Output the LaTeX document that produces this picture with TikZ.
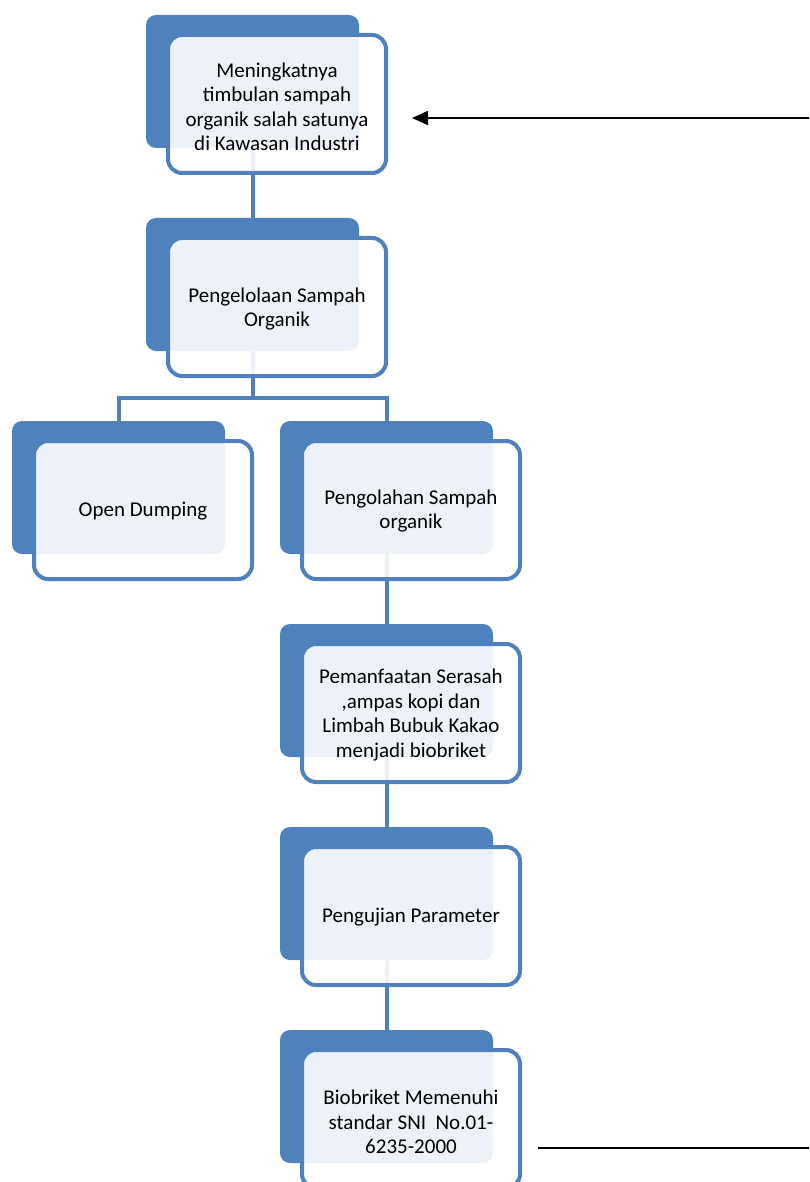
\documentclass[tikz,border=0pt]{standalone}
\usepackage{fontspec}
\setmainfont{Carlito}
\usetikzlibrary{arrows.meta}
\definecolor{sablue}{HTML}{4F81BD}
\tikzset{
  back/.style={fill=sablue, draw=none, rounded corners=10pt, minimum width=213pt, minimum height=133pt, inner sep=0pt, outer sep=0pt},
  front/.style={draw=sablue, line width=4pt, fill=white, fill opacity=0.9, rounded corners=14pt, minimum width=218pt, minimum height=138pt, inner sep=0pt, outer sep=0pt},
  txt/.style={align=center, inner sep=0pt, font=\fontsize{21pt}{24.5pt}\selectfont},
  conn/.style={draw=sablue, line width=4pt},
  pointer/.style={draw=black, line width=1.8pt}
}
\begin{document}
\begin{tikzpicture}[x=1pt,y=-1pt]
\useasboundingbox (0,0) rectangle (809,1182);
\clip (0,0) rectangle (809,1182);
% back boxes
\node[back] (b1) at (252.5,81.5) {};
\node[back] (b2) at (252.5,284.5) {};
\node[back] (b3) at (118.5,487.5) {};
\node[back] (b4) at (386.5,487.5) {};
\node[back] (b5) at (386.5,690.5) {};
\node[back] (b6) at (386.5,893.5) {};
\node[back] (b7) at (386.5,1096.5) {};
% connectors
\coordinate (j) at (252.5,398);
\draw[conn] (b1.south) -- (b2.north);
\draw[conn] (b2.south) -- (j) -| (b3.north);
\draw[conn] (j) -| (b4.north);
\draw[conn] (b4.south) -- (b5.north);
\draw[conn] (b5.south) -- (b6.north);
\draw[conn] (b6.south) -- (b7.north);
% front boxes
\node[front] (f1) at (277,104) {};
\node[front] (f2) at (277,307) {};
\node[front] (f3) at (143,510) {};
\node[front] (f4) at (411,510) {};
\node[front] (f5) at (411,713) {};
\node[front] (f6) at (411,916) {};
\node[front] (f7) at (411,1119) {};
% texts
\node[txt] (t1) at ([yshift=-3pt]f1.center) {Meningkatnya\\timbulan sampah\\organik salah satunya\\di Kawasan Industri};
\node[txt] (t2) at ([yshift=-2pt]f2.center) {Pengelolaan Sampah\\Organik};
\node[txt] (t3) at ([yshift=-1pt]f3.center) {Open Dumping};
\node[txt] (t4) at ([yshift=-1pt]f4.center) {Pengolahan Sampah\\organik};
\node[txt] (t5) at ([yshift=-2pt]f5.center) {Pemanfaatan Serasah\\,ampas kopi dan\\Limbah Bubuk Kakao\\menjadi biobriket};
\node[txt] (t6) at ([yshift=-1pt]f6.center) {Pengujian Parameter};
\node[txt] (t7) at ([yshift=-3pt]f7.center) {Biobriket Memenuhi\\standar SNI~~No.01-\\6235-2000};
% outside lines
\coordinate (arrstart) at (812,118);
\coordinate (arrend) at (412,118);
\draw[pointer, -{Triangle[length=16pt,width=14pt]}] (arrstart) -- (arrend);
\coordinate (lstart) at (538,1148);
\coordinate (lend) at (812,1148);
\draw[pointer] (lstart) -- (lend);
\end{tikzpicture}
\end{document}
